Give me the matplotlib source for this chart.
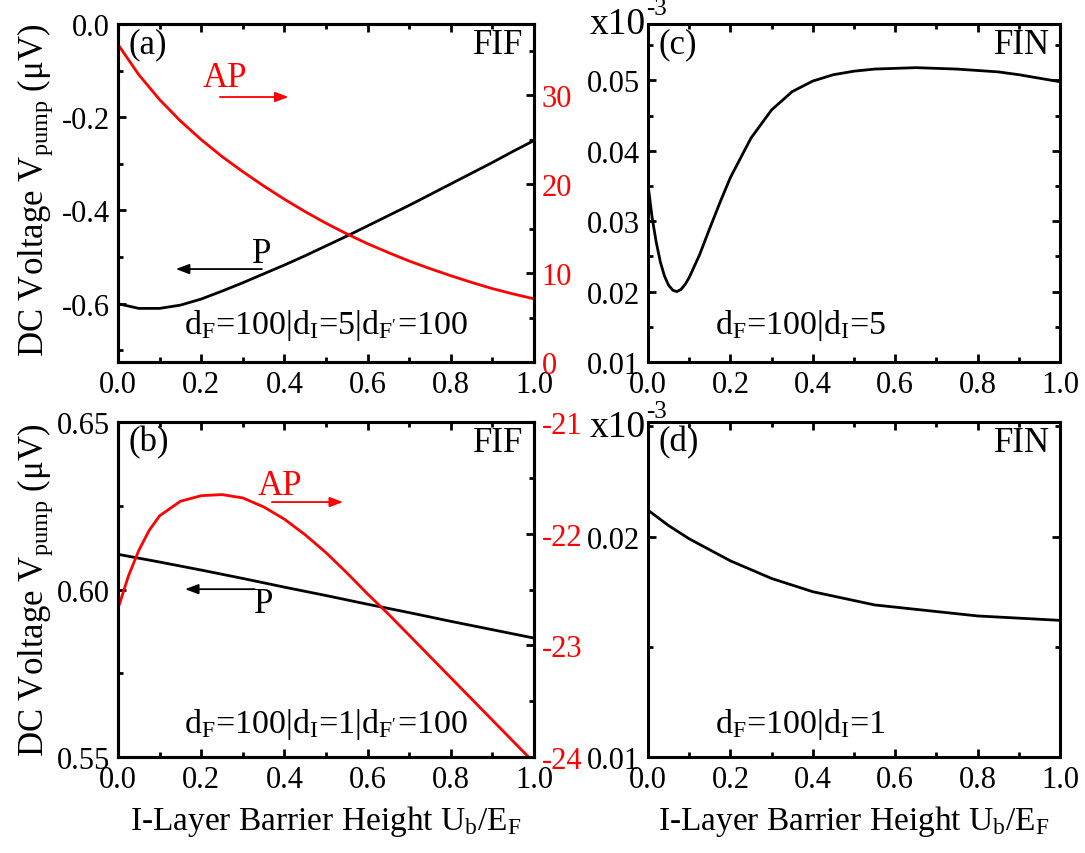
import matplotlib
matplotlib.use("Agg")
import matplotlib.pyplot as plt
from matplotlib.ticker import MultipleLocator, FormatStrFormatter, FixedLocator

plt.rcParams['font.family'] = ['Liberation Serif', 'DejaVu Serif']
plt.rcParams['mathtext.fontset'] = 'custom'
plt.rcParams['mathtext.rm'] = 'Liberation Serif'
plt.rcParams['mathtext.it'] = 'Liberation Serif:italic'
plt.rcParams['mathtext.default'] = 'rm'

# ---------------- data ----------------
# panel (a): FIF, d_I = 5
x_a = [0.0, 0.05, 0.1, 0.15, 0.2, 0.25, 0.3, 0.35, 0.4, 0.45, 0.5,
       0.55, 0.6, 0.65, 0.7, 0.75, 0.8, 0.85, 0.9, 0.95, 1.0]
p_a = [-0.600, -0.610, -0.610, -0.603, -0.590, -0.573, -0.555, -0.536, -0.517, -0.497, -0.476,
       -0.455, -0.433, -0.411, -0.389, -0.366, -0.343, -0.320, -0.297, -0.273, -0.250]
ap_a = [35.7, 32.3, 29.5, 27.1, 25.0, 23.1, 21.4, 19.8, 18.3, 16.9, 15.6,
        14.4, 13.3, 12.3, 11.35, 10.5, 9.7, 8.95, 8.25, 7.65, 7.1]

# panel (b): FIF, d_I = 1
x_b_p = [0.0, 0.1, 0.2, 0.3, 0.4, 0.5, 0.6, 0.7, 0.8, 0.9, 1.0]
p_b = [0.6105, 0.6082, 0.6058, 0.6033, 0.6007, 0.5982, 0.5956, 0.5931, 0.5905, 0.5880, 0.5855]
x_b_ap = [0.0, 0.025, 0.05, 0.075, 0.1, 0.15, 0.2, 0.25, 0.3, 0.35, 0.4, 0.45, 0.5,
          0.55, 0.6, 0.65, 0.7, 0.75, 0.8, 0.85, 0.9, 0.95, 1.0]
ap_b = [-22.67, -22.38, -22.15, -21.97, -21.84, -21.71, -21.66, -21.65, -21.68, -21.76, -21.87, -22.01, -22.17,
        -22.35, -22.54, -22.72, -22.91, -23.10, -23.29, -23.48, -23.67, -23.86, -24.05]

# panel (c): FIN, d_I = 5  (units of 1e-3)
x_c = [0.0, 0.01, 0.02, 0.03, 0.04, 0.05, 0.06, 0.07, 0.08, 0.09, 0.1, 0.125, 0.15, 0.175, 0.2,
       0.25, 0.3, 0.35, 0.4, 0.45, 0.5, 0.55, 0.6, 0.65, 0.7, 0.75, 0.8, 0.85, 0.9, 0.95, 1.0]
v_c = [0.0352, 0.0305, 0.0270, 0.0242, 0.0222, 0.0209, 0.0202, 0.0200, 0.0203, 0.0210, 0.0220,
       0.0252, 0.0290, 0.0327, 0.0362, 0.0418, 0.0458, 0.0484, 0.0499, 0.0508, 0.0513, 0.0516,
       0.0517, 0.0518, 0.0517, 0.0516, 0.0514, 0.0512, 0.0508, 0.0503, 0.0498]

# panel (d): FIN, d_I = 1  (units of 1e-3)
x_d = [0.0, 0.05, 0.1, 0.15, 0.2, 0.25, 0.3, 0.35, 0.4, 0.45, 0.5, 0.55, 0.6, 0.7, 0.8, 0.9, 1.0]
v_d = [0.0212, 0.0205, 0.0199, 0.0194, 0.0189, 0.0185, 0.0181, 0.0178, 0.0175, 0.0173, 0.0171,
       0.0169, 0.0168, 0.0166, 0.0164, 0.0163, 0.0162]

RED = '#ff0000'
TICK_FS = 22
LBL_FS = 24
TXT_FS = 25

W, H = 1085, 854
fig = plt.figure(figsize=(W / 100, H / 100), dpi=100)


def rect(l, t, r, b):
    return [l / W, 1 - b / H, (r - l) / W, (b - t) / H]


ax_a = fig.add_axes(rect(118, 25, 534, 363))
ax_b = fig.add_axes(rect(118, 423, 534, 758))
ax_c = fig.add_axes(rect(648, 25, 1060, 363))
ax_d = fig.add_axes(rect(648, 423, 1060, 758))


def style(ax, right=True):
    for s in ax.spines.values():
        s.set_linewidth(2.2)
    ax.tick_params(which='both', direction='in', top=True, right=right, width=2.0,
                   labelsize=TICK_FS, pad=6)
    ax.tick_params(which='major', length=6)
    ax.tick_params(which='minor', length=3.5)
    ax.set_xlim(0, 1)
    ax.xaxis.set_major_locator(MultipleLocator(0.2))
    ax.xaxis.set_minor_locator(MultipleLocator(0.1))
    ax.xaxis.set_major_formatter(FormatStrFormatter('%.1f'))


for ax in (ax_a, ax_b, ax_c, ax_d):
    style(ax, right=ax in (ax_c, ax_d))


def style_twin(ax2):
    ax2.tick_params(which='both', direction='in', width=2.0, labelsize=TICK_FS, labelcolor=RED, pad=5.5)
    ax2.tick_params(which='major', length=6)
    ax2.tick_params(which='minor', length=3.5)
    for s in ax2.spines.values():
        s.set_linewidth(2.2)


# ---- (a)
ax_a.plot(x_a, p_a, color='black', lw=2.0)
ax_a.set_ylim(-0.725, 0.0)
ax_a.yaxis.set_major_locator(FixedLocator([0.0, -0.2, -0.4, -0.6]))
ax_a.yaxis.set_minor_locator(FixedLocator([-0.1, -0.3, -0.5, -0.7]))
ax_a.yaxis.set_major_formatter(FormatStrFormatter('%.1f'))
ax_a2 = ax_a.twinx()
ax_a2.plot(x_a, ap_a, color=RED, lw=2.0)
ax_a2.set_ylim(0, 38)
ax_a2.yaxis.set_major_locator(MultipleLocator(10))
ax_a2.yaxis.set_minor_locator(MultipleLocator(5))
style_twin(ax_a2)

# ---- (b)
ax_b.plot(x_b_p, p_b, color='black', lw=2.0)
ax_b.set_ylim(0.55, 0.65)
ax_b.yaxis.set_major_locator(FixedLocator([0.55, 0.60, 0.65]))
ax_b.yaxis.set_minor_locator(FixedLocator([0.575, 0.625]))
ax_b.yaxis.set_major_formatter(FormatStrFormatter('%.2f'))
ax_b2 = ax_b.twinx()
ax_b2.plot(x_b_ap, ap_b, color=RED, lw=2.0)
ax_b2.set_ylim(-24, -21)
ax_b2.yaxis.set_major_locator(MultipleLocator(1))
ax_b2.yaxis.set_minor_locator(MultipleLocator(0.5))
ax_b2.yaxis.set_major_formatter(FormatStrFormatter('%d'))
style_twin(ax_b2)

# ---- (c)
ax_c.plot(x_c, v_c, color='black', lw=2.0)
ax_c.set_ylim(0.01, 0.058)
ax_c.yaxis.set_major_locator(MultipleLocator(0.01))
ax_c.yaxis.set_minor_locator(MultipleLocator(0.005))
ax_c.yaxis.set_major_formatter(FormatStrFormatter('%.2f'))

# ---- (d)
ax_d.plot(x_d, v_d, color='black', lw=2.0)
ax_d.set_ylim(0.01, 0.0252)
ax_d.yaxis.set_major_locator(MultipleLocator(0.01))
ax_d.yaxis.set_minor_locator(MultipleLocator(0.005))
ax_d.yaxis.set_major_formatter(FormatStrFormatter('%.2f'))

# ---- labels
ylab = 'DC Voltage V$_{\\mathrm{pump}}$ (\u03bcV)'
fig.text(35 / W, 1 - 190 / H, ylab, rotation=90, ha='center', va='center', fontsize=LBL_FS + 1)
fig.text(35 / W, 1 - 590 / H, ylab, rotation=90, ha='center', va='center', fontsize=LBL_FS + 1)
xlab = 'I-Layer Barrier Height U$_\\mathrm{b}$/E$_\\mathrm{F}$'
fig.text(326 / W, 1 - 822 / H, xlab, ha='center', va='center', fontsize=LBL_FS)
fig.text(854 / W, 1 - 822 / H, xlab, ha='center', va='center', fontsize=LBL_FS)

for ax, tag, kind in ((ax_a, '(a)', 'FIF'), (ax_b, '(b)', 'FIF'), (ax_c, '(c)', 'FIN'), (ax_d, '(d)', 'FIN')):
    ax.text(0.025, 0.94, tag, transform=ax.transAxes, ha='left', va='center', fontsize=TXT_FS, zorder=5)
    ax.text(0.975, 0.94, kind, transform=ax.transAxes, ha='right', va='center', fontsize=TXT_FS, zorder=5)

DFS = 24.5
ax_a.text(0.5, 0.112, "d$_\\mathrm{F}$=100|d$_\\mathrm{I}$=5|d$_\\mathrm{F'}$=100", transform=ax_a.transAxes,
          ha='center', va='center', fontsize=DFS)
ax_b.text(0.5, 0.099, "d$_\\mathrm{F}$=100|d$_\\mathrm{I}$=1|d$_\\mathrm{F'}$=100", transform=ax_b.transAxes,
          ha='center', va='center', fontsize=DFS)
ax_c.text(0.37, 0.112, "d$_\\mathrm{F}$=100|d$_\\mathrm{I}$=5", transform=ax_c.transAxes,
          ha='center', va='center', fontsize=DFS)
ax_d.text(0.37, 0.099, "d$_\\mathrm{F}$=100|d$_\\mathrm{I}$=1", transform=ax_d.transAxes,
          ha='center', va='center', fontsize=DFS)

# x10^-3 multipliers
for yc in (25, 428):
    fig.text(646 / W, 1 - yc / H, 'x10', ha='right', va='center', fontsize=27)
    fig.text(646 / W, 1 - (yc - 16) / H, '-3', ha='left', va='center', fontsize=18)


# AP / P annotations with arrows
def arrow(ax, x0, x1, y, color):
    ax.annotate('', xy=(x1, y), xytext=(x0, y), xycoords='axes fraction', textcoords='axes fraction',
                arrowprops=dict(arrowstyle='-|>,head_length=0.8,head_width=0.3', color=color, lw=1.3,
                                shrinkA=0, shrinkB=0), zorder=6)


ax_a.text(0.257, 0.843, 'AP', transform=ax_a.transAxes, ha='center', va='center', fontsize=TXT_FS, color=RED)
arrow(ax_a, 0.245, 0.41, 0.784, RED)
ax_a.text(0.346, 0.32, 'P', transform=ax_a.transAxes, ha='center', va='center', fontsize=TXT_FS)
arrow(ax_a, 0.346, 0.139, 0.275, 'black')

ax_b.text(0.389, 0.809, 'AP', transform=ax_b.transAxes, ha='center', va='center', fontsize=TXT_FS, color=RED)
arrow(ax_b, 0.37, 0.541, 0.761, RED)
ax_b.text(0.349, 0.457, 'P', transform=ax_b.transAxes, ha='center', va='center', fontsize=TXT_FS)
arrow(ax_b, 0.329, 0.161, 0.501, 'black')

fig.savefig('out.png', dpi=100)
